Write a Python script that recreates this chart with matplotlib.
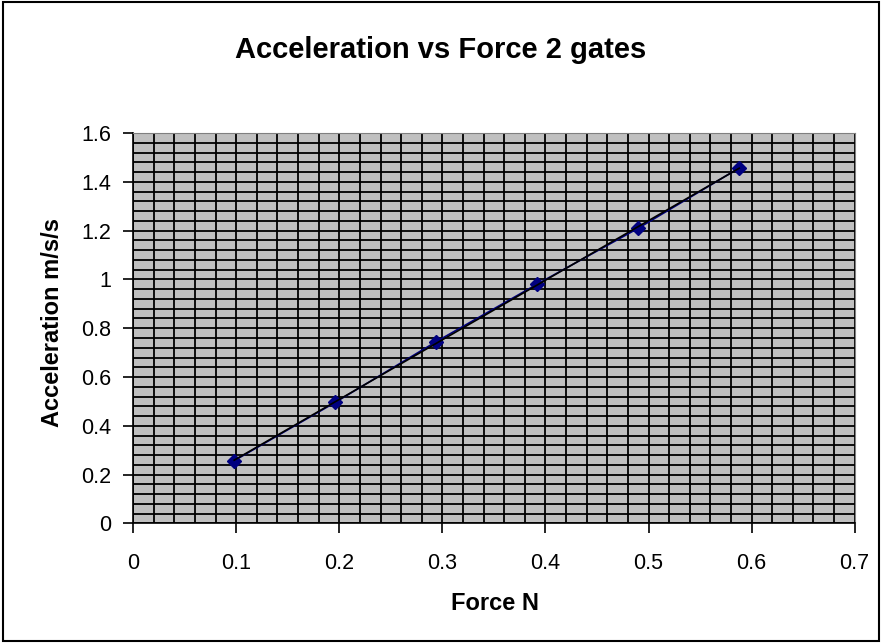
import numpy as np
import matplotlib.pyplot as plt
from matplotlib.patches import Rectangle
from matplotlib.ticker import MultipleLocator, FormatStrFormatter

force = [0.098, 0.196, 0.294, 0.392, 0.49, 0.588]
accel = [0.257, 0.496, 0.745, 0.981, 1.21, 1.457]

plt.rcParams['font.family'] = ['Liberation Sans', 'DejaVu Sans']

fig = plt.figure(figsize=(8.82, 6.43), dpi=100)
fig.patches.append(Rectangle((0.003, 0.003), 0.994, 0.994, transform=fig.transFigure,
                             fill=False, edgecolor='black', linewidth=1.5))
ax = fig.add_axes([0.151, 0.186, 0.818, 0.607])
ax.set_facecolor('#c0c0c0')

ax.set_xlim(0, 0.7)
ax.set_ylim(0, 1.6)
ax.xaxis.set_major_locator(MultipleLocator(0.1))
ax.xaxis.set_minor_locator(MultipleLocator(0.02))
ax.yaxis.set_major_locator(MultipleLocator(0.2))
ax.yaxis.set_minor_locator(MultipleLocator(0.04))
ax.xaxis.set_major_formatter(FormatStrFormatter('%g'))
ax.yaxis.set_major_formatter(FormatStrFormatter('%g'))
ax.grid(which='both', color='black', linewidth=1.3)
ax.set_axisbelow(True)
ax.tick_params(which='minor', length=0)
ax.tick_params(which='major', length=7, width=1.2, labelsize=15.5, direction='out')
ax.tick_params(axis='x', pad=14)
ax.tick_params(axis='y', pad=9)
for s in ['top', 'right']:
    ax.spines[s].set_color('#808080')
for s in ['left', 'bottom']:
    ax.spines[s].set_linewidth(1.2)

ax.plot(force, accel, color='#000080', marker='D', markersize=7, linewidth=1.2, zorder=3)
k, b = np.polyfit(force, accel, 1)
xs = np.array([force[0], force[-1]])
ax.plot(xs, k * xs + b, color='black', linewidth=1.2, zorder=4)

fig.text(0.5, 0.910, 'Acceleration vs Force 2 gates', ha='center', va='baseline',
         fontsize=21, fontweight='bold')
fig.text(0.561, 0.061, 'Force N', ha='center', va='center',
         fontsize=17, fontweight='bold')
fig.text(0.059, 0.498, 'Acceleration m/s/s', ha='center', va='center', rotation=90,
         fontsize=17, fontweight='bold')

fig.savefig('out.png', dpi=100)
